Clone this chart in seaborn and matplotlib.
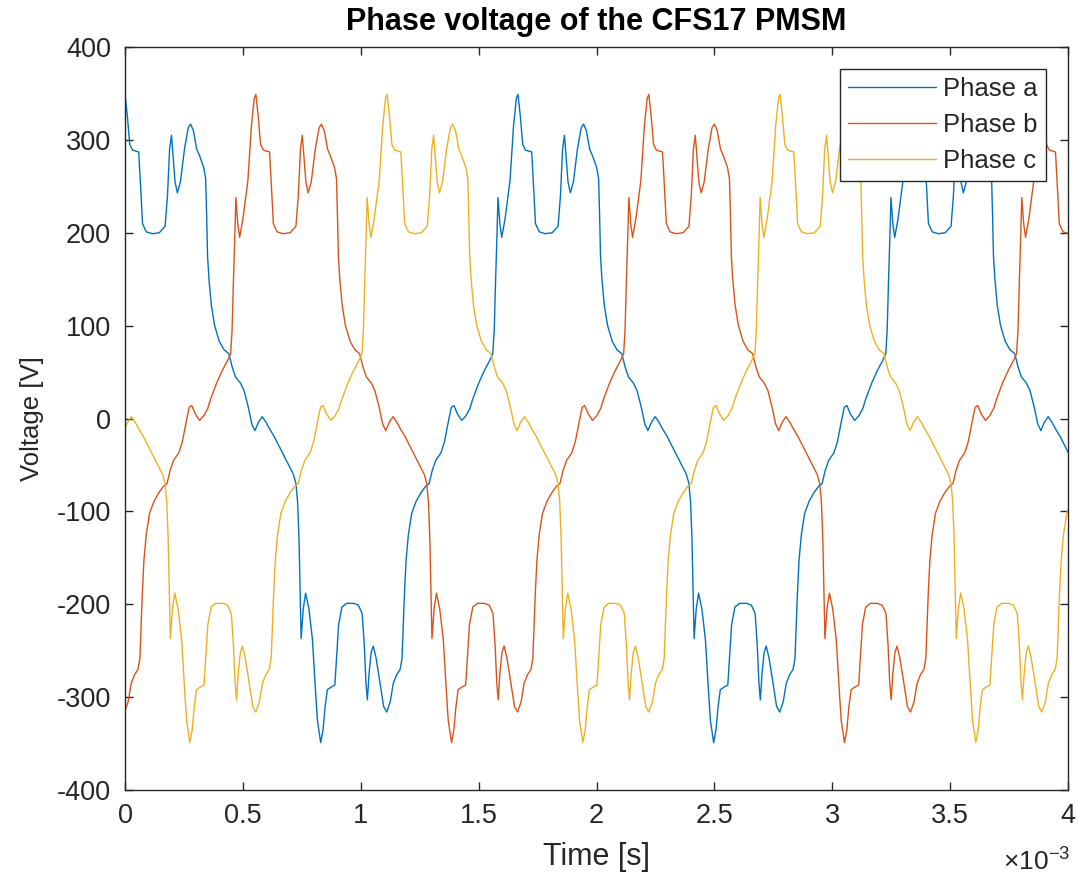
import numpy as np
import pandas as pd
import matplotlib
matplotlib.use("Agg")
import matplotlib.pyplot as plt
import seaborn as sns

# One electrical period of phase a (time in ms, voltage in V).
# The period starts at the positive peak.
profile_t_ms = [
    0.000, 0.010, 0.020, 0.032, 0.058, 0.066, 0.074, 0.090, 0.116, 0.145,
    0.170, 0.180, 0.189, 0.197, 0.203, 0.212, 0.222, 0.235, 0.252, 0.268,
    0.278, 0.290, 0.304, 0.316, 0.334, 0.342, 0.346, 0.350, 0.356, 0.366,
    0.380, 0.400, 0.420, 0.440, 0.455, 0.468, 0.490, 0.505, 0.523, 0.538,
    0.551, 0.566, 0.582, 0.598, 0.615, 0.632, 0.652, 0.672, 0.694, 0.714,
    0.725, 0.732, 0.738, 0.743, 0.747, 0.756, 0.766, 0.780, 0.795, 0.806,
    0.816, 0.830, 0.840, 0.848, 0.858, 0.875, 0.890, 0.898, 0.906, 0.920,
    0.940, 0.970, 0.990, 1.006, 1.015, 1.022, 1.028, 1.035, 1.044, 1.053,
    1.065, 1.080, 1.097, 1.110, 1.125, 1.138, 1.152, 1.167, 1.175, 1.180,
    1.185, 1.192, 1.202, 1.216, 1.235, 1.255, 1.275, 1.290, 1.303, 1.318,
    1.340, 1.355, 1.371, 1.384, 1.395, 1.410, 1.428, 1.446, 1.463, 1.475,
    1.500, 1.525, 1.548, 1.560, 1.566, 1.572, 1.578, 1.582, 1.590, 1.598,
    1.612, 1.633, 1.648, 1.660,
]
profile_v = [
    349, 325, 295, 289, 287, 250, 210, 201, 199, 200,
    207, 240, 290, 305, 285, 255, 243, 255, 290, 313,
    317, 310, 290, 283, 270, 258, 220, 175, 150, 122,
    100, 83, 74, 70, 55, 45, 38, 30, 12, -6,
    -13, -4, 2, -4, -12, -19, -29, -39, -50, -60,
    -70, -90, -130, -190, -237, -205, -188, -205, -238, -285,
    -325, -349, -335, -312, -292, -289, -287, -255, -222, -203,
    -199, -199, -201, -210, -245, -285, -303, -275, -252, -245,
    -258, -282, -310, -316, -305, -285, -276, -270, -258, -225,
    -190, -153, -125, -102, -89, -80, -73, -70, -56, -45,
    -37, -25, -4, 12, 14, 5, -2, 3, 11, 21,
    38, 52, 63, 70, 95, 150, 200, 238, 210, 195,
    215, 256, 315, 345,
]

period_ms = 1.667
phase_names = ["Phase a", "Phase b", "Phase c"]
phase_peak_ms = [0.0, 0.555, 1.112]   # time of first positive peak of each phase
phase_colors = ["#0072BD", "#D95319", "#EDB120"]

# build the long table: repeat the read period across the 0..4 ms window
rows = []
for name, peak in zip(phase_names, phase_peak_ms):
    for n in range(-1, 4):
        for t, v in zip(profile_t_ms, profile_v):
            tt = t + peak + n * period_ms
            if -0.05 <= tt <= 4.05:
                rows.append((name, tt, v))
df = pd.DataFrame(rows, columns=["phase", "time", "voltage"])

sns.set_theme(style="white")
plt.rcParams["font.family"] = ["Liberation Sans", "DejaVu Sans"]
plt.rcParams["mathtext.fontset"] = "custom"
plt.rcParams["mathtext.rm"] = "Liberation Sans"
plt.rcParams["axes.unicode_minus"] = False

fig = plt.figure(figsize=(10.78, 8.84), dpi=100)
ax = fig.add_axes([0.116, 0.1063, 0.8747, 0.8405])

sns.lineplot(data=df, x="time", y="voltage", hue="phase", palette=phase_colors,
             estimator=None, sort=False, linewidth=1.0, legend=False, ax=ax)

ax.set_xlim(0, 4)
ax.set_ylim(-400, 400)
xt = np.arange(0, 4.01, 0.5)
ax.set_xticks(xt)
ax.set_xticklabels([f"{v:g}" for v in xt])
ax.set_yticks(np.arange(-400, 401, 100))

dark = "#262626"
for s in ax.spines.values():
    s.set_visible(True)
    s.set_color(dark)
    s.set_linewidth(1.0)
ax.tick_params(direction="in", length=6, width=1.0, colors=dark,
               labelsize=19.5, top=True, right=True, bottom=True, left=True)
ax.tick_params(axis="x", pad=9)
ax.tick_params(axis="y", pad=10)

ax.set_xlabel("Time [s]", fontsize=22, color=dark, labelpad=10)
ax.set_ylabel("Voltage [V]", fontsize=18.5, color=dark, labelpad=9)
ax.set_title("Phase voltage of the CFS17 PMSM", fontsize=22, fontweight="bold",
             color="black", pad=12)
fig.text(0.993, 0.016, r"×10$^{-3}$", ha="right", va="baseline",
         fontsize=19, color=dark)

leg = ax.legend(ax.get_lines(), phase_names, loc="upper right", fontsize=18.5,
                frameon=True, fancybox=False, edgecolor=dark, framealpha=1,
                handlelength=3.4, handletextpad=0.3, labelspacing=0.46,
                borderpad=0.32, borderaxespad=0.85)
leg.get_frame().set_linewidth(1.0)

fig.savefig("out.png", dpi=100)
